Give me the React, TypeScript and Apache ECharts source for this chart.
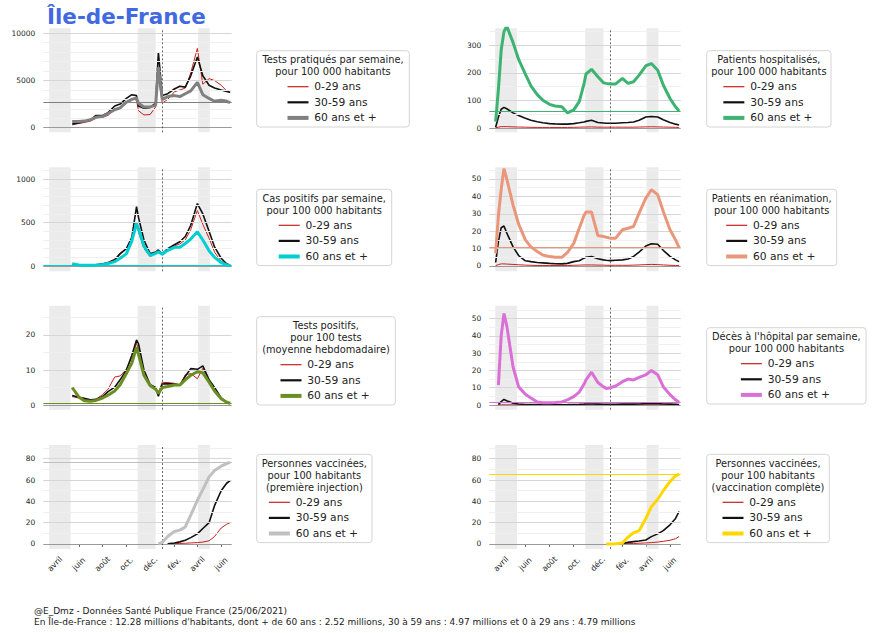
import React, { useEffect, useRef } from 'react';
import * as echarts from 'echarts';

const _ = null;

const dates = [
  '2020-03-18', '2020-03-25', '2020-04-01', '2020-04-08', '2020-04-15', '2020-05-01', '2020-05-15', '2020-06-01', '2020-06-15', '2020-07-01',
  '2020-07-15', '2020-08-01', '2020-08-15', '2020-09-01', '2020-09-15', '2020-10-01', '2020-10-15', '2020-10-27', '2020-11-01', '2020-11-15',
  '2020-12-01', '2020-12-15', '2020-12-22', '2021-01-01', '2021-01-15', '2021-02-01', '2021-02-15', '2021-03-01', '2021-03-15', '2021-04-01',
  '2021-04-15', '2021-05-01', '2021-05-15', '2021-06-01', '2021-06-15', '2021-06-24',
];

const tests0_29 = [_, _, _, _, _, _, 300, 450, 550, 700, 1000, 1100, 1300, 2000, 2100, 2700, 3100, 2900, 1800, 1350, 1400, 2200, 5400, 2600, 3000, 3800, 4000, 4200, 5800, 8400, 4600, 5200, 5000, 4500, 3900, 3700];
const tests30_59 = [_, _, _, _, _, _, 400, 500, 650, 800, 1300, 1300, 1600, 2300, 2500, 3100, 3500, 3400, 2300, 2050, 2150, 2600, 8000, 3400, 3600, 4100, 4400, 4300, 5500, 7500, 5500, 4500, 4200, 4000, 3850, 3750];
const tests60 = [_, _, _, _, _, _, 650, 650, 700, 850, 1100, 1200, 1500, 1900, 2100, 2700, 3000, 3150, 2600, 2200, 2200, 2400, 6400, 3000, 3300, 3400, 3300, 3600, 3900, 4800, 3500, 3100, 2800, 2900, 2800, 2650];

const hosp0_29 = [1, 3, 5, 5, 5, 4, 3.5, 3, 2.5, 2, 2, 2, 2, 2, 2, 2.5, 3, 3.5, 3.5, 4, 3, 3, 3, 3, 3, 3, 3, 3, 3.5, 4, 4.5, 4, 3.5, 3, 2.5, 2];
const hosp30_59 = [3, 40, 68, 75, 70, 55, 45, 35, 28, 23, 19, 16, 15, 14, 14, 16, 19, 22, 24, 28, 20, 18, 17, 17, 17, 19, 20, 22, 28, 40, 42, 40, 30, 20, 14, 11];
const hosp60 = [23, 140, 283, 350, 370, 310, 249, 196, 153, 121, 101, 86, 80, 77, 55, 66, 96, 160, 196, 213, 186, 164, 162, 160, 160, 180, 162, 168, 192, 226, 234, 210, 156, 107, 77, 62];

const cas0_29 = [_, _, _, _, _, _, 12, 7, 6, 10, 15, 25, 45, 80, 150, 200, 320, 480, 390, 200, 110, 145, 160, 130, 190, 230, 255, 300, 420, 640, 480, 320, 160, 55, 15, 5];
const cas30_59 = [_, _, _, _, _, _, 15, 8, 6, 8, 12, 25, 35, 70, 140, 200, 330, 685, 560, 300, 140, 160, 185, 140, 200, 245, 280, 340, 470, 720, 600, 400, 220, 90, 25, 8];
const cas60 = [_, _, _, _, _, _, 25, 12, 8, 8, 12, 18, 28, 50, 90, 140, 290, 490, 430, 230, 120, 146, 165, 135, 180, 215, 216, 260, 310, 395, 300, 175, 100, 40, 12, 3];

const rea0_29 = [0.3, 0.8, 1.2, 1.2, 1.1, 0.9, 0.7, 0.5, 0.4, 0.3, 0.3, 0.3, 0.3, 0.3, 0.3, 0.4, 0.5, 0.6, 0.6, 0.6, 0.5, 0.5, 0.4, 0.4, 0.4, 0.4, 0.4, 0.5, 0.6, 0.8, 0.9, 0.8, 0.6, 0.4, 0.3, 0.3];
const rea30_59 = [2, 14, 22, 23, 19, 11, 6, 3, 2.5, 2, 1.8, 1.5, 1.3, 1.2, 1.5, 2.5, 3, 4.5, 5, 5.5, 4.2, 3.5, 3.3, 3.1, 3.3, 3.5, 4, 5.5, 8, 11.5, 12.8, 12.5, 9, 5.5, 3.5, 2.5];
const rea60 = [7.3, 29, 44, 56, 50, 35, 24, 15, 11, 8.3, 6.3, 5.4, 5, 5, 7.7, 13, 21.7, 29, 31, 31, 17.5, 17, 16.5, 16, 16, 20.8, 21.7, 22.7, 30.4, 39, 43.8, 41, 31.3, 20.8, 15, 10.6];

const pos0_29 = [_, _, _, _, _, _, 2.4, 2, 1.6, 1.4, 1.6, 3, 4.5, 8, 8.3, 10.2, 13.5, 17.6, 16, 9.5, 5.5, 4.6, 3.5, 6.5, 6.4, 6.2, 5.7, 8.6, 9, 7.5, 10.5, 6.7, 4.3, 1.6, 0.6, 0.3];
const pos30_59 = [_, _, _, _, _, _, 2.7, 2.2, 1.9, 1.5, 1.6, 2.4, 3.8, 5.1, 7.2, 10, 14.2, 18.6, 17.5, 10, 5.8, 5, 2.5, 6, 6.1, 6, 5.7, 8.2, 10.4, 10.2, 11.2, 7.2, 5, 2, 0.8, 0.4];
const pos60 = [_, _, _, _, _, _, 5, 2.3, 1.2, 1.1, 1.3, 2, 2.8, 4, 5.8, 9, 12, 16.5, 14.5, 8.5, 5.5, 4.5, 3.3, 5, 5.3, 5.7, 5.7, 7.2, 8.5, 9.5, 9.2, 6.5, 4, 1.8, 0.8, 0.5];

const deces0_29 = [_, 0.05, 0.1, 0.1, 0.1, 0.05, 0.05, 0.05, 0.05, 0.05, 0.05, 0.05, 0.05, 0.05, 0.05, 0.05, 0.05, 0.05, 0.05, 0.05, 0.05, 0.05, 0.05, 0.05, 0.05, 0.05, 0.05, 0.05, 0.05, 0.05, 0.05, 0.05, 0.05, 0.05, 0.05, 0.05];
const deces30_59 = [_, 0.2, 2, 3.2, 2.5, 1, 0.6, 0.3, 0.2, 0.2, 0.15, 0.15, 0.15, 0.15, 0.2, 0.3, 0.4, 0.5, 0.6, 0.6, 0.5, 0.4, 0.4, 0.4, 0.4, 0.5, 0.5, 0.5, 0.6, 0.8, 0.8, 0.8, 0.6, 0.5, 0.4, 0.3];
const deces60 = [_, 11.5, 40, 53, 46, 22, 10.5, 6.2, 4, 1.7, 1.3, 1.3, 1.5, 1.8, 3, 4.8, 7.5, 12, 14.5, 19, 13, 10.5, 9.6, 10, 11, 13.5, 15, 14.5, 16, 17.5, 20, 17.5, 10.6, 6, 3, 1.6];

const vac1_0_29 = [_, _, _, _, _, _, _, _, _, _, _, _, _, _, _, _, _, _, _, _, _, _, _, _, 0.1, 0.3, 0.5, 0.7, 1, 1.3, 1.8, 3, 7, 15, 18.5, 20];
const vac1_30_59 = [_, _, _, _, _, _, _, _, _, _, _, _, _, _, _, _, _, _, _, _, _, _, _, _, 0.3, 1, 2, 3.5, 6, 9.5, 14.5, 20, 36, 50, 57, 59.5];
const vac1_60 = [_, _, _, _, _, _, _, _, _, _, _, _, _, _, _, _, _, _, _, _, _, _, 0, 1.5, 7, 11.8, 13, 16, 27, 41, 51, 63, 69, 73, 75.5, 76.6];

const vac2_0_29 = [_, _, _, _, _, _, _, _, _, _, _, _, _, _, _, _, _, _, _, _, _, _, _, _, _, 0.1, 0.3, 0.5, 0.7, 1, 1.3, 1.8, 2.5, 3.5, 5, 7];
const vac2_30_59 = [_, _, _, _, _, _, _, _, _, _, _, _, _, _, _, _, _, _, _, _, _, _, _, _, _, 0.5, 1.5, 2.2, 2.8, 3.8, 6.9, 9.5, 12.5, 18, 24, 30.5];
const vac2_60 = [_, _, _, _, _, _, _, _, _, _, _, _, _, _, _, _, _, _, _, _, _, _, 0, 0, 0.3, 1, 6.5, 10.5, 12.5, 24, 35, 42, 50, 58.5, 64, 65.6];

const ageLabels = ['0-29 ans', '30-59 ans', '60 ans et +'];
const periods = [['2020-03-17', '2020-05-11'], ['2020-10-30', '2020-12-15'], ['2021-04-03', '2021-05-03']];
const vlineDate = '2021-01-01';
const xRange = ['2020-03-02', '2021-06-28'];
const tickDates = ['2020-04-01', '2020-06-01', '2020-08-01', '2020-10-01', '2020-12-01', '2021-02-01', '2021-04-01', '2021-06-01'];
const MONTHS = ['janv.', 'fév.', 'mars', 'avril', 'mai', 'juin', 'juil.', 'août', 'sept.', 'oct.', 'nov.', 'déc.'];

const FONT = '"DejaVu Sans", "Liberation Sans", sans-serif';
const RED = '#c8201e';
const BLACK = '#111111';

const ts = (s: string) => {
  const [y, m, d] = s.split('-').map(Number);
  return new Date(y, m - 1, d).getTime();
};

type Panel = {
  series: (number | null)[][];
  color: string;
  yMin: number; yMax: number;
  labels: number[];
  minor: number;
  title: string[];
  box: [number, number, number];
};

const panels: Panel[] = [
  { series: [tests0_29, tests30_59, tests60], color: '#808080', yMin: -487, yMax: 10530, labels: [0, 5000, 10000], minor: 1000,
    title: ['Tests pratiqués par semaine,', 'pour 100 000 habitants'], box: [256.7, 50.7, 152.6] },
  { series: [hosp0_29, hosp30_59, hosp60], color: '#3cb371', yMin: -15.6, yMax: 362, labels: [0, 100, 200, 300], minor: 50,
    title: ['Patients hospitalisés,', 'pour 100 000 habitants'], box: [706.7, 50.7, 124.3] },
  { series: [cas0_29, cas30_59, cas60], color: '#00ced1', yMin: -61, yMax: 1138, labels: [0, 500, 1000], minor: 100,
    title: ['Cas positifs par semaine,', 'pour 100 000 habitants'], box: [256.7, 189.3, 135] },
  { series: [rea0_29, rea30_59, rea60], color: '#e9967a', yMin: -3.05, yMax: 56.7, labels: [0, 10, 20, 30, 40, 50], minor: 5,
    title: ['Patients en réanimation,', 'pour 100 000 habitants'], box: [706.7, 189.3, 130] },
  { series: [pos0_29, pos30_59, pos60], color: '#6b8e23', yMin: -1.34, yMax: 28.37, labels: [0, 10, 20], minor: 5,
    title: ['Tests positifs,', 'pour 100 tests', '(moyenne hebdomadaire)'], box: [256.7, 316.7, 138.6] },
  { series: [deces0_29, deces30_59, deces60], color: '#da70d6', yMin: -2.72, yMax: 57.5, labels: [0, 10, 20, 30, 40, 50], minor: 5,
    title: ["Décès à l'hôpital par semaine,", 'pour 100 000 habitants'], box: [706.7, 327.7, 159.3] },
  { series: [vac1_0_29, vac1_30_59, vac1_60], color: '#c0c0c0', yMin: -4.7, yMax: 92.9, labels: [0, 20, 40, 60, 80], minor: 10,
    title: ['Personnes vaccinées,', 'pour 100 habitants', '(première injection)'], box: [256.7, 454.3, 115.3] },
  { series: [vac2_0_29, vac2_30_59, vac2_60], color: '#ffd700', yMin: -4.7, yMax: 92.9, labels: [0, 20, 40, 60, 80], minor: 10,
    title: ['Personnes vaccinées,', 'pour 100 habitants', '(vaccination complète)'], box: [706.7, 454.3, 122.6] },
];

const gridTops = [28.3, 167.3, 305.7, 445];
const gridLefts = [43.3, 489.3];
const gridWidths = [188.4, 191.4];
const GRID_H = 104;

function buildOption() {
  const grid: any[] = [];
  const xAxis: any[] = [];
  const yAxis: any[] = [];
  const series: any[] = [];
  const graphic: any[] = [];

  panels.forEach((p, i) => {
    const col = i % 2;
    const row = Math.floor(i / 2);
    const bottom = row === 3;
    grid.push({ left: gridLefts[col], top: gridTops[row], width: gridWidths[col], height: GRID_H });
    xAxis.push({
      type: 'value', gridIndex: i, min: ts(xRange[0]), max: ts(xRange[1]),
      axisLine: { show: false },
      axisTick: bottom ? { show: true, customValues: tickDates.map(ts), length: 3, lineStyle: { color: '#444', width: 0.8 } } : { show: false },
      splitLine: { show: false },
      axisLabel: bottom ? {
        show: true, customValues: tickDates.map(ts), rotate: 45,
        formatter: (v: number) => MONTHS[new Date(v).getMonth()],
        fontSize: 8, color: '#262626', fontFamily: FONT, margin: 15, align: 'center', verticalAlign: 'middle',
      } : { show: false },
    });
    yAxis.push({
      type: 'value', gridIndex: i, min: p.yMin, max: p.yMax,
      axisLine: { show: false }, axisTick: { show: false }, splitLine: { show: false },
      axisLabel: { customValues: p.labels, formatter: (v: number) => String(v), fontSize: 7.5, color: '#262626', fontFamily: FONT, margin: 8 },
    });

    // shaded periods
    series.push({
      type: 'line', xAxisIndex: i, yAxisIndex: i, data: [], z: 1, silent: true,
      markArea: {
        silent: true, itemStyle: { color: '#ebebeb' },
        data: periods.map(([a, b]) => [{ xAxis: ts(a) }, { xAxis: ts(b) }]),
      },
    });

    // grid lines
    const lines: any[] = [];
    const start = Math.ceil(p.yMin / p.minor) * p.minor;
    for (let v = start; v <= p.yMax; v += p.minor) {
      const vv = Math.round(v * 1000) / 1000;
      if (vv === 0) continue;
      const major = p.labels.indexOf(vv) >= 0;
      lines.push({ yAxis: vv, lineStyle: { color: major ? '#d6d6d6' : '#efefef', width: 1, type: 'solid' } });
    }
    lines.push({ yAxis: 0, lineStyle: { color: '#9a9a9a', width: 1, type: 'solid' } });
    lines.push({ xAxis: ts(vlineDate), lineStyle: { color: '#444', width: 0.8, type: [2, 2] } });
    series.push({
      type: 'line', xAxisIndex: i, yAxisIndex: i, data: [], z: 2, silent: true,
      markLine: { silent: true, symbol: ['none', 'none'], label: { show: false }, data: lines },
    });

    const colors = [RED, BLACK, p.color];
    const widths = [1, 1.6, 3];
    p.series.forEach((arr, j) => {
      const s: any = {
        type: 'line', name: ageLabels[j], xAxisIndex: i, yAxisIndex: i,
        data: dates.map((d, k) => [ts(d), arr[k]]),
        showSymbol: false, symbol: 'none', silent: true, z: 3 + j,
        lineStyle: { color: colors[j], width: widths[j] },
        itemStyle: { color: colors[j] },
      };
      if (j === 2) {
        const last = arr[arr.length - 1];
        s.markLine = {
          silent: true, symbol: ['none', 'none'], label: { show: false },
          lineStyle: { color: p.color, width: 1, type: 'solid' },
          data: [{ yAxis: last }],
        };
      }
      series.push(s);
    });

    // legend box
    const [bx, by, bw] = p.box;
    const nT = p.title.length;
    const bh = nT * 12 + 52.3;
    const cx = bx + bw / 2;
    graphic.push({
      type: 'rect', shape: { x: bx, y: by, width: bw, height: bh, r: 3 },
      style: { fill: '#ffffff', stroke: '#d4d4d4', lineWidth: 1 }, z: 10,
    });
    p.title.forEach((t, k) => {
      graphic.push({
        type: 'text', x: cx, y: by + 9 + k * 12, z: 11,
        style: { text: t, font: `9.8px ${FONT}`, fill: '#222', textAlign: 'center', align: 'center', textVerticalAlign: 'middle', verticalAlign: 'middle' },
      });
    });
    const lw = [1.2, 2.2, 4];
    ageLabels.forEach((lab, j) => {
      const y = by + 9 + nT * 12 + 3 + j * 15.6;
      graphic.push({
        type: 'line', shape: { x1: cx - 45.5, y1: y, x2: cx - 24.5, y2: y }, z: 11,
        style: { stroke: colors[j], lineWidth: lw[j] },
      });
      graphic.push({
        type: 'text', x: cx - 18.7, y, z: 11,
        style: { text: lab, font: `10.7px ${FONT}`, fill: '#222', textAlign: 'left', align: 'left', textVerticalAlign: 'middle', verticalAlign: 'middle' },
      });
    });
  });

  graphic.push({
    type: 'text', x: 47, y: 16, z: 11,
    style: { text: 'Île-de-France', font: `bold 21.5px ${FONT}`, fill: '#4169e1', textVerticalAlign: 'middle', verticalAlign: 'middle' },
  });
  graphic.push({
    type: 'text', x: 34, y: 611, z: 11,
    style: { text: '@E_Dmz - Données Santé Publique France (25/06/2021)', font: `9px ${FONT}`, fill: '#222', textVerticalAlign: 'middle', verticalAlign: 'middle' },
  });
  graphic.push({
    type: 'text', x: 34, y: 622, z: 11,
    style: { text: "En Île-de-France : 12.28 millions d'habitants, dont + de 60 ans : 2.52 millions, 30 à 59 ans : 4.97 millions et 0 à 29 ans : 4.79 millions", font: `9px ${FONT}`, fill: '#222', textVerticalAlign: 'middle', verticalAlign: 'middle' },
  });

  return {
    animation: false,
    backgroundColor: '#ffffff',
    textStyle: { fontFamily: FONT },
    grid, xAxis, yAxis, series, graphic,
  };
}

export default function App() {
  const ref = useRef<HTMLDivElement>(null);
  useEffect(() => {
    if (!ref.current) return;
    const chart = echarts.init(ref.current, null, { renderer: 'svg' });
    chart.setOption(buildOption() as any);
    return () => chart.dispose();
  }, []);
  return <div ref={ref} style={{ position: 'fixed', left: 0, top: 0, width: 873, height: 633 }} />;
}
